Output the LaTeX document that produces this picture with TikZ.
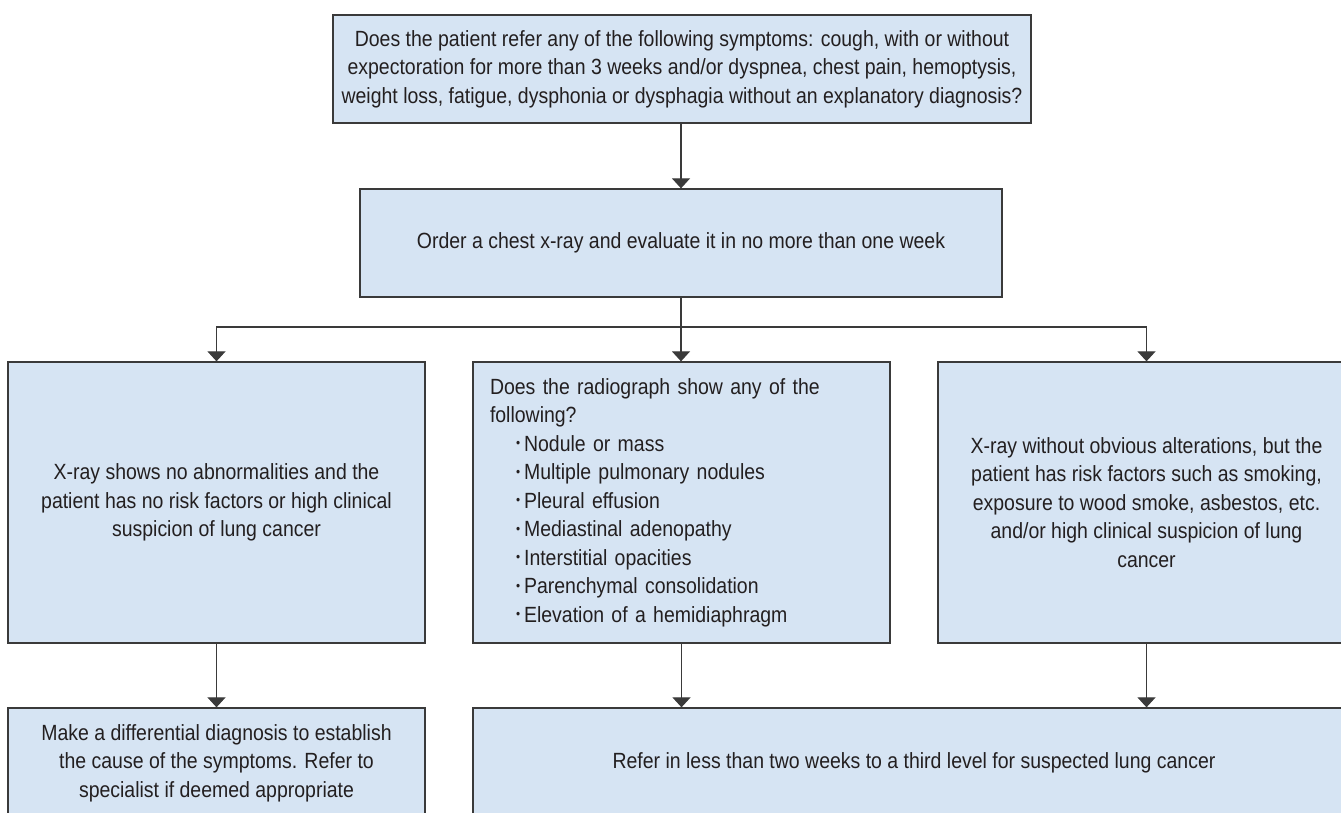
\documentclass[tikz,border=0pt]{standalone}
\usepackage{graphicx}
\usepackage{fontspec}
\setmainfont{Liberation Sans}[FakeStretch=0.885]
\usetikzlibrary{arrows.meta}
\definecolor{boxfill}{HTML}{D6E4F3}
\definecolor{boxline}{HTML}{3A3A3A}
\definecolor{txt}{HTML}{231F20}
\newcommand\bul{\hspace*{26pt}\raisebox{0.3ex}{\scalebox{0.6}{•}}\hspace{4pt}}
\tikzset{
 box/.style={draw=boxline, line width=1.3pt, fill=boxfill, text=txt, inner sep=0pt, align=center, font=\fontsize{22}{28.5}\selectfont},
 conn/.style={draw=boxline, line width=1.2pt, -{Triangle[width=18pt,length=10pt]}},
 link/.style={draw=boxline, line width=1.2pt}
}
\begin{document}
\begin{tikzpicture}[x=1pt,y=-1pt]
\useasboundingbox (0,0) rectangle (1341,812);
\clip (0,0) rectangle (1341,812);
\node[box, minimum width=698pt, minimum height=108pt] (q) at (682,69)
 {Does the patient refer any of the following symptoms: cough, with or without\\
  expectoration for more than 3 weeks and/or dyspnea, chest pain, hemoptysis,\\
  weight loss, fatigue, dysphonia or dysphagia without an explanatory diagnosis?};
\node[box, minimum width=642pt, minimum height=108pt] (xr) at (681,243)
 {Order a chest x-ray and evaluate it in no more than one week};
\node[box, minimum width=417pt, minimum height=281pt] (l) at (216.5,502.5)
 {X-ray shows no abnormalities and the\\
  patient has no risk factors or high clinical\\
  suspicion of lung cancer};
\node[box, minimum width=417pt, minimum height=281pt, text width=383pt, align=left] (m) at (681.5,502.5)
 {Does the radiograph show any of the\\
  following?\\
  \bul Nodule or mass\\
  \bul Multiple pulmonary nodules\\
  \bul Pleural effusion\\
  \bul Mediastinal adenopathy\\
  \bul Interstitial opacities\\
  \bul Parenchymal consolidation\\
  \bul Elevation of a hemidiaphragm};
\node[box, minimum width=417pt, minimum height=281pt] (r) at (1146.5,502.5)
 {X-ray without obvious alterations, but the\\
  patient has risk factors such as smoking,\\
  exposure to wood smoke, asbestos, etc.\\
  and/or high clinical suspicion of lung\\
  cancer};
\node[box, minimum width=417pt, minimum height=110pt] (bl) at (216.5,763)
 {Make a differential diagnosis to establish\\
  the cause of the symptoms. Refer to\\
  specialist if deemed appropriate};
\node[box, minimum width=882pt, minimum height=110pt] (br) at (914,763)
 {Refer in less than two weeks to a third level for suspected lung cancer};
\coordinate (split) at (681,327);
\draw[conn] (q.south -| xr.north) -- (xr.north);
\draw[link] (xr.south) -- (split);
\draw[conn] (split) -- (split |- m.north);
\draw[conn] (split) -| (l.north);
\draw[conn] (split) -| (r.north);
\draw[conn] (l.south) -- (bl.north);
\draw[conn] (m.south) -- (m.south |- br.north);
\draw[conn] (r.south) -- (r.south |- br.north);
\end{tikzpicture}
\end{document}
